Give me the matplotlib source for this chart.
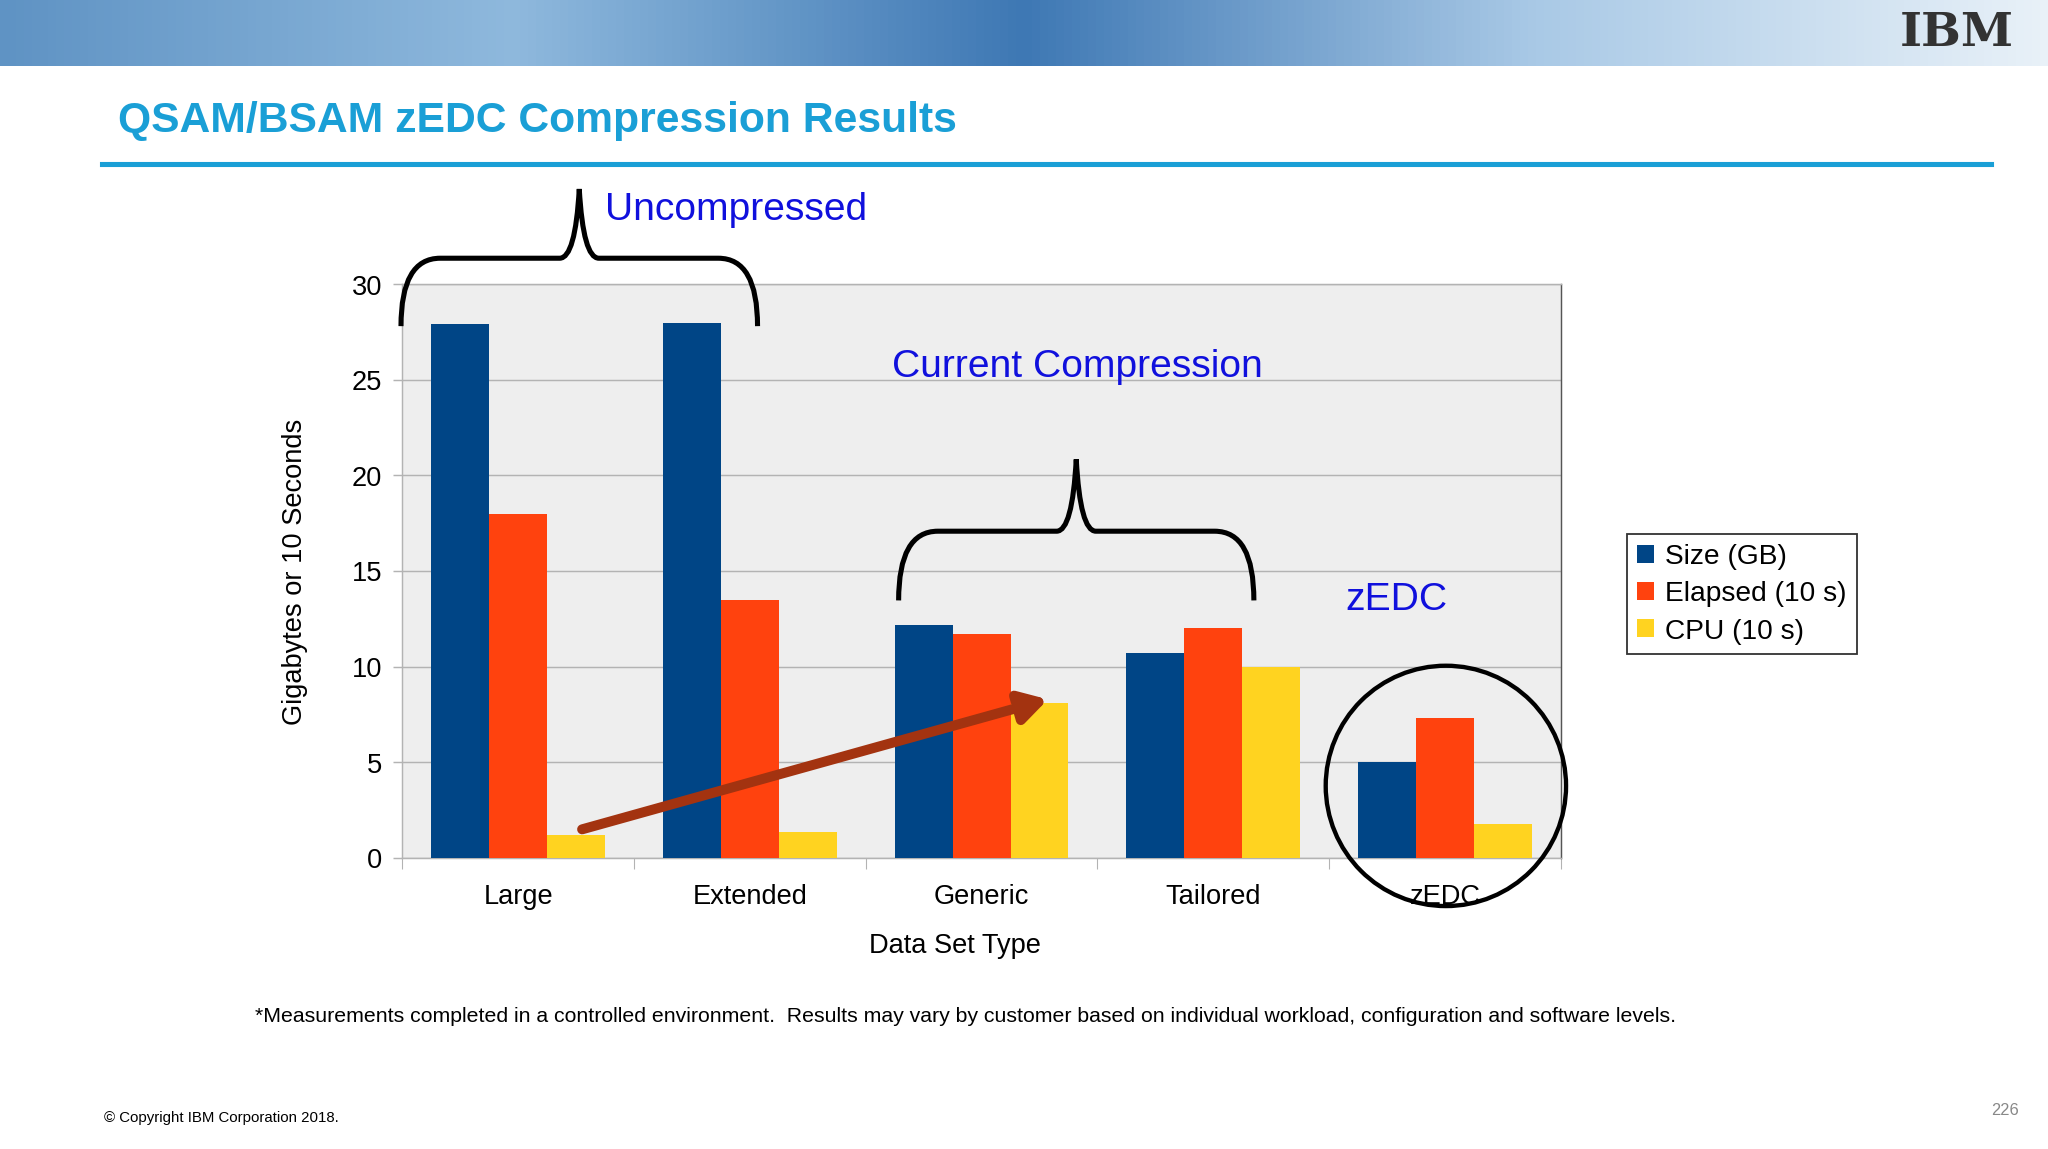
import matplotlib.pyplot as plt
import numpy as np
from matplotlib.patches import Circle
from matplotlib.path import Path
from matplotlib.patches import PathPatch
from matplotlib.colors import LinearSegmentedColormap

plt.rcParams['font.family'] = ['Liberation Sans', 'DejaVu Sans']

categories = ['Large', 'Extended', 'Generic', 'Tailored', 'zEDC']
size_gb = [27.9, 28.0, 12.2, 10.7, 5.0]
elapsed = [18.0, 13.5, 11.7, 12.0, 7.3]
cpu = [1.2, 1.35, 8.1, 10.0, 1.75]
series = [('Size (GB)', size_gb, '#004586'),
          ('Elapsed (10 s)', elapsed, '#ff420e'),
          ('CPU (10 s)', cpu, '#ffd320')]

# work in the slide's 1568x880 pixel grid, saved at 2048x1152
W, H = 1568, 880
fig = plt.figure(figsize=(W / 100, H / 100), dpi=100 * 2048 / W)

ov = fig.add_axes([0, 0, 1, 1], zorder=5)
ov.set_xlim(0, W)
ov.set_ylim(H, 0)
ov.axis('off')
ov.patch.set_alpha(0)

# header band
grad = np.linspace(0, 1, 256).reshape(1, -1)
cm = LinearSegmentedColormap.from_list('h', ['#5f93c4', '#8fb9dd', '#3e78b4', '#a9c9e6', '#e9f1f8'])
ov.imshow(grad, extent=(0, W, 51, 0), cmap=cm, aspect='auto', zorder=0)
ov.text(1498, 25, 'IBM', fontsize=26, fontweight='bold', color='#333333', ha='center', va='center',
        family='DejaVu Serif')
ov.text(90, 93, 'QSAM/BSAM zEDC Compression Results', fontsize=23.5, fontweight='bold',
        color='#1a9fd6', va='center')
ov.plot([78, 1524], [126, 126], color='#1a9fd6', lw=2.8)

# main chart
ax = fig.add_axes([308 / W, 1 - 657 / H, (1195 - 308) / W, (657 - 218) / H])
ax.set_facecolor('#eeeeee')
x = np.arange(len(categories))
bw = 0.25
for i, (lab, vals, col) in enumerate(series):
    ax.bar(x + (i - 1) * bw, vals, bw, color=col, label=lab, zorder=3)
ax.set_xlim(-0.5, 4.5)
ax.set_ylim(0, 30)
ax.set_yticks(range(0, 31, 5))
ax.yaxis.grid(True, color='#b3b3b3', lw=0.8, zorder=0)
ax.set_xticks(x)
ax.set_xticklabels(categories, fontsize=15)
ax.set_xticks(np.arange(-0.5, 5, 1), minor=True)
ax.tick_params(axis='x', which='major', length=0, pad=14)
ax.tick_params(axis='x', which='minor', length=6, color='#b3b3b3')
ax.tick_params(axis='y', length=5, labelsize=15, color='#b3b3b3', pad=6)
for s in ['top', 'left', 'bottom']:
    ax.spines[s].set_color('#b3b3b3')
ax.spines['right'].set_color('#555555')
ax.set_xlabel('Data Set Type', fontsize=15, labelpad=14)
ax.xaxis.set_label_coords(0.477, -0.13)
ax.set_ylabel('Gigabytes or 10 Seconds', fontsize=15, labelpad=24)
ax.legend(loc='upper left', bbox_to_anchor=(1246 / W, 1 - 409 / H), bbox_transform=fig.transFigure,
          fontsize=15.5, frameon=True, fancybox=False, edgecolor='black', handlelength=0.6,
          handleheight=0.6, handletextpad=0.4, borderpad=0.35, labelspacing=0.4, borderaxespad=0)


def brace(x0, x1, yb, yt, ypk):
    xm = (x0 + x1) / 2
    verts = [(x0, yb), (x0, yt), (x0 + 30, yt),
             (xm - 15, yt), (xm - 3, yt), (xm, ypk),
             (xm + 3, yt), (xm + 15, yt),
             (x1 - 30, yt), (x1, yt), (x1, yb)]
    codes = [Path.MOVETO, Path.CURVE3, Path.CURVE3,
             Path.LINETO, Path.CURVE3, Path.CURVE3,
             Path.CURVE3, Path.CURVE3,
             Path.LINETO, Path.CURVE3, Path.CURVE3]
    ov.add_patch(PathPatch(Path(verts, codes), fill=False, lw=2.8, color='black'))


brace(307, 580, 250, 198, 145)
brace(688, 960, 460, 407, 352)

ov.text(463, 161, 'Uncompressed', fontsize=21.5, color='#1010dd', va='center')
ov.text(683, 281, 'Current Compression', fontsize=21.5, color='#1010dd', va='center')
ov.text(1030, 459, 'zEDC', fontsize=21.5, color='#1010dd', va='center')
ov.add_patch(Circle((1107, 602), 92, fill=False, lw=2.4, color='black'))
ov.annotate('', xy=(805, 535), xytext=(443, 636),
            arrowprops=dict(arrowstyle='-|>,head_length=1.2,head_width=0.7', color='#a33310', lw=5.5))

ov.text(195, 778, '*Measurements completed in a controlled environment.  Results may vary by customer based on '
        'individual workload, configuration and software levels.', fontsize=11.75, va='center')
ov.text(80, 856, '\u00a9 Copyright IBM Corporation 2018.', fontsize=8.3, va='center')
ov.text(1546, 850, '226', fontsize=9, color='#888888', ha='right', va='center')

fig.savefig('out.png')
